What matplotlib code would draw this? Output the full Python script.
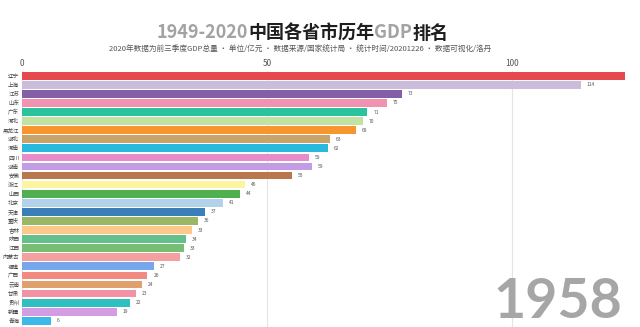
import numpy as np
import matplotlib
matplotlib.use('Agg')
import matplotlib.pyplot as plt

plt.rcParams['font.family'] = ['Noto Sans CJK SC', 'DejaVu Sans']

# snapshot of the race at 1958 (bar lengths, labels as shown)
provinces = ['辽宁', '上海', '江苏', '山东', '广东', '河北', '黑龙江', '湖北', '河南', '四川',
             '湖南', '安徽', '浙江', '山西', '北京', '天津', '重庆', '吉林', '陕西', '江西',
             '内蒙古', '福建', '广西', '云南', '甘肃', '贵州', '新疆', '青海']
gdp = [123, 114, 77.6, 74.5, 70.5, 69.5, 68.2, 62.9, 62.4, 58.6,
       59.2, 55, 45.6, 44.4, 41, 37.3, 35.9, 34.6, 33.5, 33.1,
       32.3, 27, 25.6, 24.4, 23.3, 22, 19.3, 5.9]
shown = [123, 114, 73, 75, 71, 70, 68, 63, 62, 59,
         59, 55, 46, 44, 41, 37, 36, 33, 34, 33,
         32, 27, 26, 24, 23, 22, 19, 6]
colors = ['#e5484d', '#cbbcdc', '#855ea8', '#f292b2', '#2cc39c', '#c2e2a2', '#f7962f', '#c8a46a',
          '#2ab9de', '#e78ccb', '#c39ce6', '#b9774d', '#fbf59f', '#50b04f', '#b0d3ea', '#3b7fb8',
          '#9ab864', '#fdc98b', '#63c08a', '#78bd74', '#f5a0a0', '#78a6ec', '#f28a7f', '#dfa06d',
          '#f392a5', '#30bfc0', '#d49ce3', '#3bbaea']
year = '1958'

fig = plt.figure(figsize=(6.4, 3.27), dpi=100)
ax = fig.add_axes([22/640, 0, 607.6/640, 256.3/327])

rank = np.arange(len(provinces))
ax.barh(rank, gdp, height=0.85, color=colors, zorder=2)
ax.set_xlim(0, 124)
ax.set_ylim(27.68, -0.55)

ax.set_yticks(rank)
ax.set_yticklabels(provinces, fontsize=4, color='#444444')
ax.xaxis.tick_top()
ax.set_xticks([0, 50, 100])
ax.tick_params(axis='x', length=0, pad=2, labelsize=6, labelcolor='#555555')
ax.tick_params(axis='y', length=0, pad=2)
ax.grid(axis='x', color='#e4e4e4', linewidth=0.8, zorder=0)
for s in ax.spines.values():
    s.set_visible(False)

for i in range(len(provinces)):
    ax.text(gdp[i] + 1.2, rank[i], str(shown[i]), fontsize=3.5, color='#555555',
            va='center', ha='left', clip_on=True)

# title in pieces (grey numbers / GDP, dark chinese)
fig.canvas.draw()
r = fig.canvas.get_renderer()
parts = [('1949-2020', '#a3a3a3'), ('中国各省市历年', '#1e1e1e'),
         ('GDP', '#a3a3a3'), ('排名', '#1e1e1e')]
x = 157
for s, c in parts:
    t = fig.text(x/640, 1 - 33/327, s, color=c, fontsize=13, fontweight='bold',
                 va='center', ha='left')
    x += t.get_window_extent(renderer=r).width

fig.text(300/640, 1 - 50/327,
         '2020年数据为前三季度GDP总量 · 单位/亿元 · 数据来源/国家统计局 · 统计时间/20201226 · 数据可视化/洛丹',
         fontsize=5.5, color='#555555', ha='center', va='center')

fig.text(622/640, 0.5/327, year, fontsize=40, fontweight='bold', family='Lato',
         color='#a6a6a6', ha='right', va='bottom')

fig.savefig('out.png', dpi=100)
